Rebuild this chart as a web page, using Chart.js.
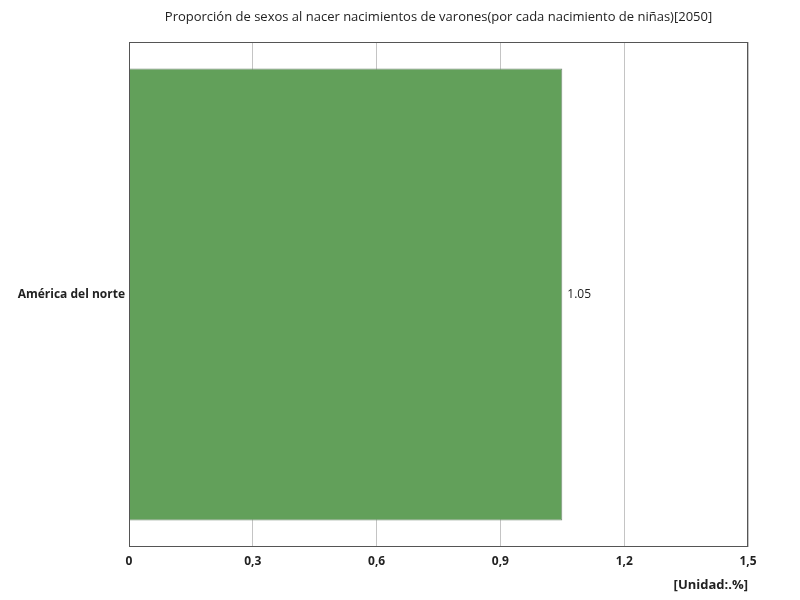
<!DOCTYPE html>
<html>
<head>
<meta charset="utf-8">
<script src="https://cdn.jsdelivr.net/npm/chart.js@4/dist/chart.umd.min.js"></script>
<style>
  html, body { margin: 0; padding: 0; background: #fff; }
  #wrap { width: 800px; height: 600px; }
</style>
</head>
<body>
<div id="wrap"><canvas id="c"></canvas></div>
<script>
// Data
const categories = ['América del norte'];
const values = [1.05];
const xTicks = [0, 0.3, 0.6, 0.9, 1.2, 1.5];
const titleText = 'Proporción de sexos al nacer nacimientos de varones(por cada nacimiento de niñas)[2050]';

const FONT = "'Open Sans', 'Noto Sans', sans-serif";

// title centred over the plot, frame around the plot, value labels at bar ends
const framePlugin = {
  id: 'frame',
  afterDatasetsDraw(chart) {
    const { ctx, chartArea: a } = chart;
    ctx.save();
    ctx.strokeStyle = '#555';
    ctx.lineWidth = 1;
    ctx.strokeRect(a.left + 0.5, a.top + 0.5, a.right - a.left - 1, a.bottom - a.top - 1);

    ctx.fillStyle = '#222';
    ctx.font = '13px ' + FONT;
    ctx.textAlign = 'center';
    ctx.textBaseline = 'middle';
    ctx.fillText(titleText, (a.left + a.right) / 2, 17);

    const meta = chart.getDatasetMeta(0);
    ctx.font = '12px ' + FONT;
    ctx.textAlign = 'left';
    meta.data.forEach((bar, i) => {
      ctx.fillText(values[i].toFixed(2), bar.x + 5, bar.y);
    });
    ctx.restore();
  }
};

new Chart(document.getElementById('c'), {
  type: 'bar',
  data: {
    labels: categories,
    datasets: [{
      data: values,
      backgroundColor: '#62a05a',
      borderColor: '#7a8a78',
      borderWidth: 1,
      barPercentage: 0.895,
      categoryPercentage: 1,
    }],
  },
  options: {
    indexAxis: 'y',
    responsive: true,
    maintainAspectRatio: false,
    animation: false,
    layout: { padding: { left: 0, right: 52, top: 42, bottom: 1 } },
    plugins: {
      legend: { display: false },
      tooltip: { enabled: false },
      title: { display: false },
    },
    scales: {
      x: {
        min: 0,
        max: 1.5,
        afterBuildTicks(axis) {
          axis.ticks = xTicks.map(v => ({ value: v }));
        },
        grid: { color: '#c4c4c4', drawTicks: false },
        border: { display: false },
        ticks: {
          padding: 7,
          color: '#222',
          font: { family: FONT, size: 12, weight: 'bold' },
          callback: v => String(v).replace('.', ','),
        },
        title: {
          display: true,
          text: '[Unidad:.%]',
          align: 'end',
          color: '#222',
          font: { family: FONT, size: 13, weight: 'bold' },
          padding: { top: 2, bottom: 6 },
        },
      },
      y: {
        afterFit(axis) { axis.width = 129; },
        grid: { display: false, drawTicks: false },
        border: { display: false },
        ticks: {
          padding: 4,
          color: '#222',
          font: { family: FONT, size: 12, weight: 'bold' },
        },
      },
    },
  },
  plugins: [framePlugin],
});
</script>
</body>
</html>
